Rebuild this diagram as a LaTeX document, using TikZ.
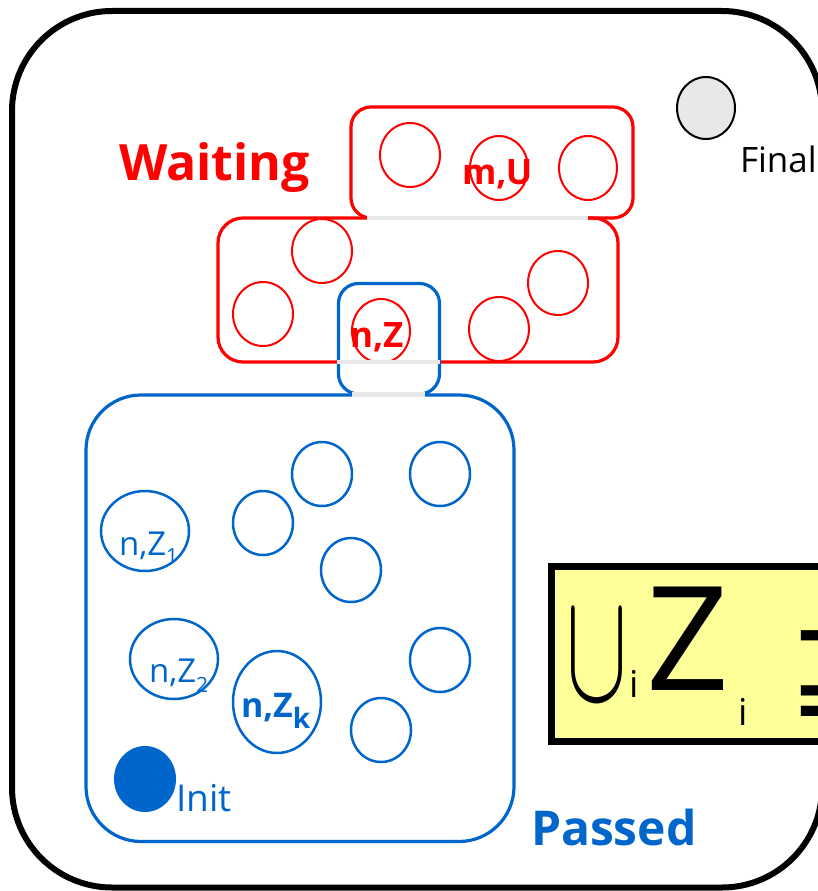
\documentclass[tikz,border=0pt]{standalone}
\usepackage{fontspec}
\setmainfont{Open Sans}
\newfontfamily\symfont{DejaVu Sans}
\usetikzlibrary{shapes.geometric}
\definecolor{myred}{HTML}{FF0000}
\definecolor{myblue}{HTML}{0066CC}
\definecolor{mygray}{HTML}{E8E8E8}
\definecolor{myyellow}{HTML}{FFFF99}
\begin{document}
\begin{tikzpicture}[x=1pt,y=-1pt,
  redcirc/.style={ellipse, draw=myred, line width=2pt, minimum width=60pt, minimum height=64pt, inner sep=0pt},
  bluecirc/.style={ellipse, draw=myblue, line width=2.5pt, minimum width=60pt, minimum height=64pt, inner sep=0pt},
  bigcirc/.style={ellipse, draw=myblue, line width=2.5pt, minimum width=88pt, minimum height=80pt, inner sep=0pt},
  redbox/.style={draw=myred, line width=3.2pt, rounded corners=20pt},
  bluebox/.style={draw=myblue, line width=3.2pt},
  graystrip/.style={draw=mygray, line width=4.5pt},
  lbl/.style={anchor=base west, inner sep=0pt, outer sep=0pt}
]
\clip (0,0) rectangle (818,891);
\fill[white] (0,0) rectangle (818,891);
% outer box
\draw[line width=6pt, rounded corners=100pt] (12,11) rectangle (822,887.5);
% Final state
\node[ellipse, draw=black, line width=2pt, fill=mygray, minimum width=58pt, minimum height=62pt, inner sep=0pt] (final) at (706,108) {};
\node[lbl, font=\fontsize{35}{40}\selectfont] (finallbl) at (740,172) {Final};
% Waiting boxes
\draw[redbox] (351,107) rectangle (633,218);
\draw[redbox, rounded corners=25pt] (218,218) rectangle (618,362);
\node[redcirc] (w1) at (410,155) {};
\node[redcirc, minimum width=58pt] (w2) at (499,168) {};
\node[redcirc, minimum width=58pt] (w3) at (588,168) {};
\node[redcirc] (w4) at (322,251) {};
\node[redcirc] (w5) at (263,314) {};
\node[redcirc] (w7) at (499,329) {};
\node[redcirc] (w8) at (558,283) {};
% small blue box
\draw[bluebox, rounded corners=20pt] (338.5,283.5) rectangle (439.5,394);
\node[redcirc, minimum width=58pt] (w6) at (381,331) {};
% Passed box
\draw[bluebox, rounded corners=55pt] (86,395) rectangle (514,841.5);
% gray strips
\draw[graystrip] (367,218) -- (588,218);
\draw[graystrip] (337,362) -- (440,362);
\draw[graystrip] (352,394.5) -- (425,394.5);
% passed circles
\node[bigcirc] (p1) at (145,531) {};
\node[bluecirc] (p2) at (263,523) {};
\node[bluecirc] (p3) at (322,474) {};
\node[bluecirc] (p4) at (440,474) {};
\node[bluecirc] (p5) at (351,570) {};
\node[bigcirc] (p6) at (174,659) {};
\node[bigcirc, minimum height=102pt] (p7) at (277,702) {};
\node[bluecirc] (p8) at (440,660) {};
\node[bluecirc] (p9) at (381,730) {};
\node[ellipse, fill=myblue, minimum width=62pt, minimum height=66pt, inner sep=0pt] (init) at (145,779) {};
% labels
\node[lbl, text=myred, font=\bfseries\fontsize{50}{60}\selectfont] (waiting) at (119,180) {Waiting};
\node[lbl, text=myblue, font=\bfseries\fontsize{48}{58}\selectfont] (passed) at (531,845) {Passed};
\node[lbl, text=myred, font=\bfseries\fontsize{35}{40}\selectfont] (mu) at (462,184) {m,U};
\node[lbl, text=myred, font=\bfseries\fontsize{35}{40}\selectfont] (nz) at (350,347) {n,Z};
\node[lbl, text=myblue, font=\fontsize{33}{40}\selectfont] (nz1) at (119,555) {n,Z\raisebox{-8pt}{\fontsize{21}{24}\selectfont 1}};
\node[lbl, text=myblue, font=\fontsize{33}{40}\selectfont] (nz2) at (149,682) {n,Z\raisebox{-10pt}{\fontsize{21}{24}\selectfont 2}};
\node[lbl, text=myblue, font=\bfseries\fontsize{34}{40}\selectfont] (nzk) at (241,717) {n,Z\raisebox{-11pt}{\fontsize{28}{32}\selectfont k}};
\node[lbl, text=myblue, font=\fontsize{37}{44}\selectfont] (initlbl) at (176,811) {Init};
% union box
\draw[line width=7pt, fill=myyellow] (551.5,566.5) rectangle (840,741.5);
\node[inner sep=0pt] (cup) at (597.5,656) {\resizebox{61pt}{88pt}{$\cup$}};
\node[lbl, font=\fontsize{37}{44}\selectfont] (i1) at (629,697) {i};
\node[lbl, font=\fontsize{145}{160}\selectfont] (zz) at (646,690) {Z};
\node[lbl, font=\fontsize{37}{44}\selectfont] (i2) at (738,725) {i};
\node[lbl, font=\symfont\fontsize{140}{150}\selectfont] (supeq) at (786,716) {⊇};
\end{tikzpicture}
\end{document}
